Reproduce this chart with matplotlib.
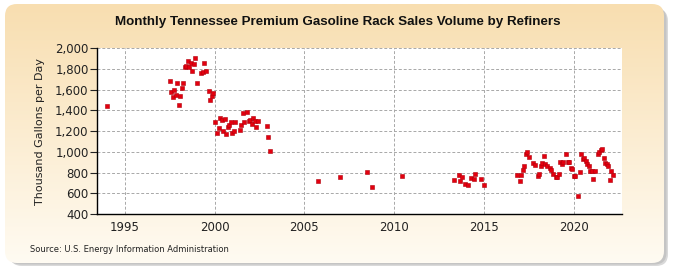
import numpy as np
import pandas as pd
import matplotlib
matplotlib.use('Agg')
import matplotlib.pyplot as plt
from matplotlib.patches import FancyBboxPatch
from matplotlib.ticker import FuncFormatter

TITLE = 'Monthly Tennessee Premium Gasoline Rack Sales Volume by Refiners'
YLABEL = 'Thousand Gallons per Day'
SOURCE = 'Source: U.S. Energy Information Administration'

months = [
    '1994-01',
    '1997-07', '1997-08', '1997-09', '1997-10', '1997-11', '1997-12',
    '1998-01', '1998-02', '1998-03', '1998-04', '1998-05', '1998-06',
    '1998-07', '1998-08', '1998-09', '1998-10', '1998-11', '1998-12',
    '1999-01', '1999-04', '1999-05', '1999-06', '1999-07', '1999-09',
    '1999-10', '1999-11', '1999-12',
    '2000-01', '2000-03', '2000-04', '2000-05', '2000-06', '2000-07',
    '2000-08', '2000-09', '2000-10', '2000-11', '2000-12',
    '2001-01', '2001-02', '2001-03', '2001-06', '2001-07', '2001-08',
    '2001-09', '2001-11', '2001-12',
    '2002-01', '2002-02', '2002-03', '2002-04', '2002-05', '2002-06',
    '2002-12', '2003-01', '2003-02',
    '2005-10', '2007-01', '2008-07', '2008-10', '2010-06',
    '2013-05', '2013-08', '2013-09', '2013-10', '2013-12',
    '2014-02', '2014-04', '2014-06', '2014-07', '2014-11', '2015-01',
    '2016-11', '2017-01', '2017-02', '2017-03', '2017-04', '2017-05',
    '2017-06', '2017-07', '2017-10', '2017-11',
    '2018-01', '2018-02', '2018-03', '2018-04', '2018-05', '2018-06',
    '2018-07', '2018-09', '2018-10', '2018-11',
    '2019-01', '2019-02', '2019-03', '2019-04', '2019-05', '2019-06',
    '2019-08', '2019-09', '2019-10', '2019-11', '2019-12',
    '2020-01', '2020-02', '2020-04', '2020-05', '2020-06', '2020-07',
    '2020-08', '2020-09', '2020-10', '2020-11', '2020-12',
    '2021-01', '2021-02', '2021-03', '2021-05', '2021-06', '2021-07',
    '2021-08', '2021-09', '2021-10', '2021-11', '2021-12',
    '2022-01', '2022-02', '2022-03',
]
volume = [
    1445,
    1688, 1581, 1533, 1600, 1549, 1668,
    1456, 1543, 1620, 1668, 1816, 1833,
    1881, 1816, 1862, 1784, 1852, 1907,
    1668, 1758, 1775, 1862, 1784, 1591,
    1504, 1543, 1572,
    1292, 1185, 1234, 1330, 1311, 1205,
    1321, 1176, 1243, 1256, 1292,
    1185, 1198, 1292, 1214, 1263, 1379,
    1292, 1388, 1301,
    1311, 1272, 1330, 1301, 1243, 1301,
    1253, 1147, 1011,
    722, 760, 809, 664, 770,
    724, 772, 718, 753, 685,
    676, 743, 734, 782, 734, 676,
    780, 722, 780, 828, 867, 982,
    1002, 954, 896, 876,
    770, 789, 867, 896, 963, 886,
    867, 847, 828, 789,
    760, 760, 789, 905, 886, 905,
    982, 905, 905, 847, 838,
    770, 770, 577, 809, 982, 934,
    944, 915, 886, 867, 818,
    818, 741, 818, 982, 1002, 1021,
    1031, 944, 896, 886, 867,
    731, 818, 780,
]

x_ticks = [1995, 2000, 2005, 2010, 2015, 2020]
y_ticks = [400, 600, 800, 1000, 1200, 1400, 1600, 1800, 2000]

dates = pd.to_datetime(months)
year_frac = dates.year + (dates.month - 1) / 12.0

fig = plt.figure(figsize=(6.75, 2.75), dpi=100)
fig.patch.set_facecolor('white')

# rounded beige panel with a soft shadow
bg = fig.add_axes([0, 0, 1, 1], zorder=-10)
bg.set_xlim(0, 675)
bg.set_ylim(275, 0)
bg.axis('off')
for off, col in [(4, '#d9d9d9'), (2.5, '#c4c4c4')]:
    bg.add_patch(FancyBboxPatch((6 + off, 5 + off), 658, 257,
                                boxstyle='round,pad=0,rounding_size=12',
                                fc=col, ec='none'))
grad = np.linspace(0, 1, 256).reshape(-1, 1)
top = np.array([248, 222, 176]) / 255.0
bot = np.array([255, 251, 242]) / 255.0
img = top + (bot - top) * grad[..., None]
im = bg.imshow(img.reshape(256, 1, 3), extent=(5, 664, 263, 4), aspect='auto', zorder=1)
clip = FancyBboxPatch((5, 4), 659, 259, boxstyle='round,pad=0,rounding_size=12',
                      fc='none', ec='none', transform=bg.transData)
bg.add_patch(clip)
im.set_clip_path(clip)

ax = fig.add_axes([97 / 675, 1 - 214 / 275, (622 - 97) / 675, (214 - 48.3) / 275])
ax.set_facecolor('white')
ax.scatter(year_frac, volume, marker='s', s=12, color='#e3000f',
           edgecolors='#b0000a', linewidths=0.4, zorder=3)

ax.set_xlim(1993.46, 2022.68)
ax.set_ylim(400, 2000)
ax.set_xticks(x_ticks)
ax.set_yticks(y_ticks)
ax.yaxis.set_major_formatter(FuncFormatter(lambda v, p: f'{int(v):,}'))
ax.grid(True, color='#a8a8a8', linestyle=(0, (3, 2)), linewidth=0.7)
ax.set_axisbelow(True)
for s in ['top', 'right']:
    ax.spines[s].set_visible(False)
for s in ['left', 'bottom']:
    ax.spines[s].set_color('black')
    ax.spines[s].set_linewidth(1.0)
ax.tick_params(axis='y', length=5, width=0.8, labelsize=8.5, colors='#222222', pad=1)
ax.tick_params(axis='x', length=0, labelsize=8.5, colors='#222222', pad=5)
ax.set_ylabel(YLABEL, fontsize=8, color='#222222', labelpad=7)

fig.text(0.5, 1 - 22 / 275, TITLE, ha='center', va='center',
         fontsize=9.6, fontweight='bold', color='#111111',
         family='Liberation Sans')
fig.text(30 / 675, 1 - 250 / 275, SOURCE, ha='left', va='center',
         fontsize=6, color='#222222')

fig.savefig('out.png', dpi=100)
